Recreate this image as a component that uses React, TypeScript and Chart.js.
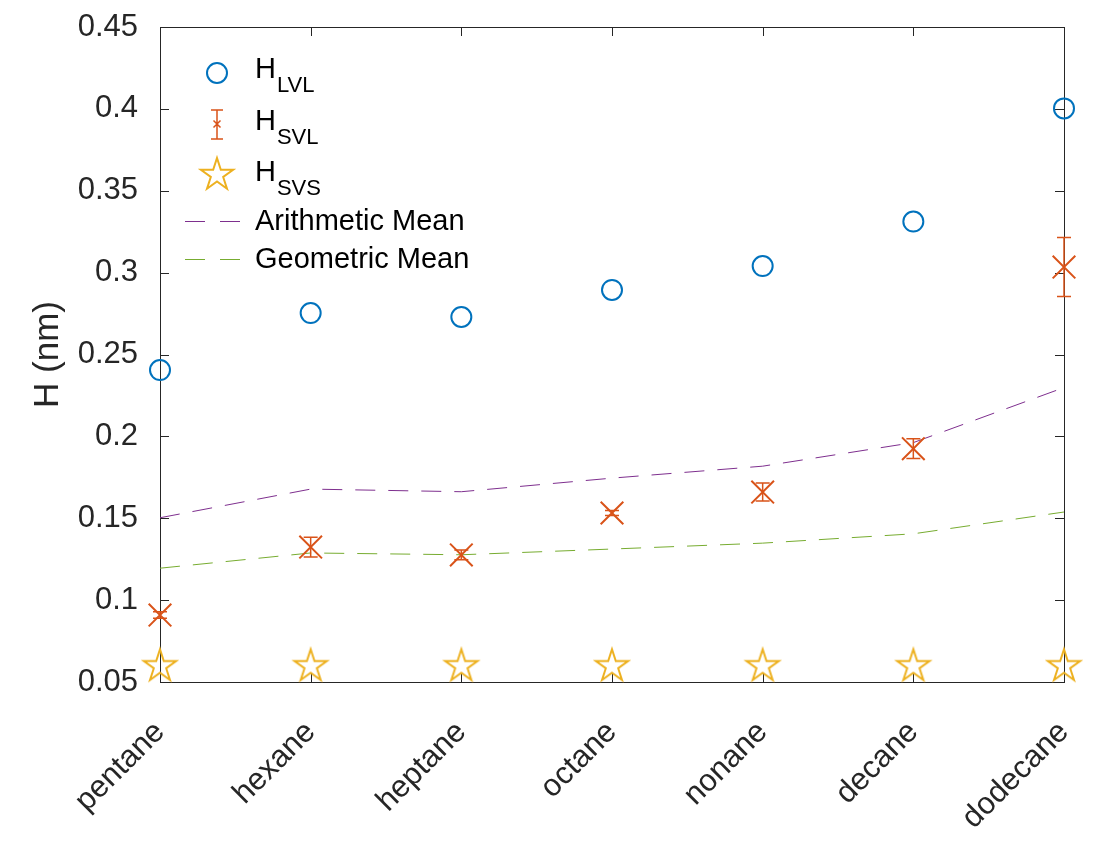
import React, { useEffect, useRef } from "react";
import { Chart, registerables } from "chart.js";
Chart.register(...registerables);

const categories = ["pentane", "hexane", "heptane", "octane", "nonane", "decane", "dodecane"];
const hLVL = [0.2405, 0.2753, 0.2729, 0.2894, 0.304, 0.3312, 0.4003];
const hSVL = [0.0909, 0.1324, 0.1276, 0.1532, 0.166, 0.1925, 0.3034];
const hSVLErr = [0.002, 0.006, 0.003, 0.0015, 0.0055, 0.006, 0.018];
const hSVS = [0.0602, 0.0602, 0.0602, 0.0602, 0.0602, 0.0602, 0.0602];
const arithMean = [0.1503, 0.1678, 0.1662, 0.1745, 0.1818, 0.1962, 0.2298];
const geoMean = [0.1195, 0.1288, 0.1277, 0.1312, 0.1348, 0.1405, 0.1538];
const yTicks = [0.05, 0.1, 0.15, 0.2, 0.25, 0.3, 0.35, 0.4, 0.45];

const FONT = "'Liberation Sans', Arial, Helvetica, sans-serif";
const AX = "#262626";
const BLUE = "#0072BD";
const ORANGE = "#D95319";
const YELLOW = "#EDB120";
const PURPLE = "#7E2F8E";
const GREEN = "#77AC30";

function drawStarPath(ctx: CanvasRenderingContext2D, cx: number, cy: number, R: number) {
  const r = R * 0.382;
  ctx.beginPath();
  for (let i = 0; i < 10; i++) {
    const rad = i % 2 === 0 ? R : r;
    const a = -Math.PI / 2 + (i * Math.PI) / 5;
    const x = cx + rad * Math.cos(a);
    const y = cy + rad * Math.sin(a);
    if (i === 0) ctx.moveTo(x, y);
    else ctx.lineTo(x, y);
  }
  ctx.closePath();
}

function makeStar(): HTMLCanvasElement {
  const c = document.createElement("canvas");
  c.width = 40;
  c.height = 40;
  const ctx = c.getContext("2d")!;
  ctx.strokeStyle = YELLOW;
  ctx.lineWidth = 2;
  ctx.lineJoin = "miter";
  drawStarPath(ctx, 20, 21, 17);
  ctx.stroke();
  return c;
}

const boxPlugin = {
  id: "matlabBox",
  beforeDatasetsDraw(chart: any) {
    const { ctx, chartArea: a, scales } = chart;
    ctx.save();
    ctx.strokeStyle = AX;
    ctx.lineWidth = 1;
    const tl = 9;
    ctx.beginPath();
    scales.y.ticks.forEach((t: any) => {
      const y = Math.round(scales.y.getPixelForValue(t.value)) + 0.5;
      ctx.moveTo(a.left, y);
      ctx.lineTo(a.left + tl, y);
      ctx.moveTo(a.right, y);
      ctx.lineTo(a.right - tl, y);
    });
    categories.forEach((_, i) => {
      const x = Math.round(scales.x.getPixelForValue(i)) + 0.5;
      ctx.moveTo(x, a.bottom);
      ctx.lineTo(x, a.bottom - tl);
      ctx.moveTo(x, a.top);
      ctx.lineTo(x, a.top + tl);
    });
    ctx.stroke();
    ctx.strokeRect(Math.round(a.left) + 0.5, Math.round(a.top) + 0.5, Math.round(a.right - a.left), Math.round(a.bottom - a.top));
    ctx.restore();
  },
};

const errorBarPlugin = {
  id: "errorBars",
  afterDatasetsDraw(chart: any) {
    const { ctx, scales } = chart;
    ctx.save();
    ctx.strokeStyle = ORANGE;
    ctx.lineWidth = 1.5;
    const cap = 7;
    hSVL.forEach((v, i) => {
      const x = scales.x.getPixelForValue(i);
      const y1 = scales.y.getPixelForValue(v - hSVLErr[i]);
      const y2 = scales.y.getPixelForValue(v + hSVLErr[i]);
      ctx.beginPath();
      ctx.moveTo(x, y1);
      ctx.lineTo(x, y2);
      ctx.moveTo(x - cap, y1);
      ctx.lineTo(x + cap, y1);
      ctx.moveTo(x - cap, y2);
      ctx.lineTo(x + cap, y2);
      ctx.stroke();
    });
    ctx.restore();
  },
};

const legendPlugin = {
  id: "matlabLegend",
  afterDraw(chart: any) {
    const ctx: CanvasRenderingContext2D = chart.ctx;
    ctx.save();
    const ix = 217;
    const tx = 255;
    ctx.strokeStyle = BLUE;
    ctx.lineWidth = 2;
    ctx.beginPath();
    ctx.arc(ix, 73, 10, 0, Math.PI * 2);
    ctx.stroke();
    ctx.strokeStyle = ORANGE;
    ctx.lineWidth = 1.5;
    ctx.beginPath();
    ctx.moveTo(ix, 110);
    ctx.lineTo(ix, 139);
    ctx.moveTo(ix - 6, 110);
    ctx.lineTo(ix + 6, 110);
    ctx.moveTo(ix - 6, 139);
    ctx.lineTo(ix + 6, 139);
    ctx.moveTo(ix - 3.5, 120.5);
    ctx.lineTo(ix + 3.5, 127.5);
    ctx.moveTo(ix + 3.5, 120.5);
    ctx.lineTo(ix - 3.5, 127.5);
    ctx.stroke();
    ctx.strokeStyle = YELLOW;
    ctx.lineWidth = 2;
    drawStarPath(ctx, ix, 175, 17);
    ctx.stroke();
    ctx.lineWidth = 1;
    ctx.setLineDash([20, 15]);
    ctx.strokeStyle = PURPLE;
    ctx.beginPath();
    ctx.moveTo(185, 221.5);
    ctx.lineTo(240, 221.5);
    ctx.stroke();
    ctx.strokeStyle = GREEN;
    ctx.beginPath();
    ctx.moveTo(185, 259.5);
    ctx.lineTo(240, 259.5);
    ctx.stroke();
    ctx.setLineDash([]);
    ctx.fillStyle = "#000";
    ctx.textAlign = "left";
    ctx.textBaseline = "alphabetic";
    const subs: [string, number][] = [
      ["LVL", 78],
      ["SVL", 130],
      ["SVS", 181],
    ];
    subs.forEach(([s, base]) => {
      ctx.font = `29px ${FONT}`;
      ctx.fillText("H", tx, base);
      const w = ctx.measureText("H").width;
      ctx.font = `22px ${FONT}`;
      ctx.fillText(s, tx + w + 1, base + 14);
    });
    ctx.font = `29px ${FONT}`;
    ctx.fillText("Arithmetic Mean", tx, 230);
    ctx.fillText("Geometric Mean", tx, 268);
    ctx.restore();
  },
};

export default function App() {
  const ref = useRef<HTMLCanvasElement | null>(null);
  useEffect(() => {
    if (!ref.current) return;
    const star = makeStar();
    const chart = new Chart(ref.current, {
      type: "line",
      data: {
        labels: categories,
        datasets: [
          {
            label: "H_LVL",
            data: hLVL,
            showLine: false,
            pointStyle: "circle",
            pointRadius: 10,
            pointBorderWidth: 2,
            borderColor: BLUE,
            pointBorderColor: BLUE,
            backgroundColor: "rgba(0,0,0,0)",
            pointBackgroundColor: "rgba(0,0,0,0)",
            clip: false,
          } as any,
          {
            label: "H_SVL",
            data: hSVL,
            showLine: false,
            pointStyle: "crossRot",
            pointRadius: 16,
            pointBorderWidth: 2,
            borderColor: ORANGE,
            pointBorderColor: ORANGE,
            clip: false,
          } as any,
          {
            label: "H_SVS",
            data: hSVS,
            showLine: false,
            pointStyle: star,
            pointRadius: 17,
            borderColor: YELLOW,
            clip: false,
          } as any,
          {
            label: "Arithmetic Mean",
            data: arithMean,
            borderColor: PURPLE,
            borderWidth: 1,
            borderDash: [20, 13],
            pointRadius: 0,
            tension: 0,
            fill: false,
          },
          {
            label: "Geometric Mean",
            data: geoMean,
            borderColor: GREEN,
            borderWidth: 1,
            borderDash: [20, 13],
            pointRadius: 0,
            tension: 0,
            fill: false,
          },
        ],
      },
      options: {
        animation: false,
        responsive: false,
        maintainAspectRatio: false,
        devicePixelRatio: 1,
        layout: { padding: { top: 27, right: 48, left: 0, bottom: 0 } },
        plugins: { legend: { display: false }, tooltip: { enabled: false } },
        events: [],
        scales: {
          x: {
            type: "category",
            offset: false,
            grid: { display: false, drawTicks: false },
            border: { display: false },
            ticks: {
              autoSkip: false,
              maxRotation: 45,
              minRotation: 45,
              padding: 32,
              color: AX,
              font: { family: FONT, size: 31 },
            },
            afterFit: (s: any) => {
              s.height = 168;
              s.paddingLeft = 0;
              s.paddingRight = 0;
            },
          },
          y: {
            type: "linear",
            min: 0.05,
            max: 0.45,
            grid: { display: false, drawTicks: false },
            border: { display: false },
            afterBuildTicks: (s: any) => {
              s.ticks = yTicks.map((v) => ({ value: v }));
            },
            ticks: {
              padding: 22,
              color: AX,
              font: { family: FONT, size: 31 },
              callback: (v: any) => String(+Number(v).toFixed(2)),
            },
            title: {
              display: true,
              text: "H (nm)",
              color: AX,
              font: { family: FONT, size: 35 },
              padding: { top: 27, bottom: 0 },
            },
            afterFit: (s: any) => {
              s.width = 160;
              s.paddingTop = 0;
              s.paddingBottom = 0;
            },
          },
        },
      },
      plugins: [boxPlugin, errorBarPlugin, legendPlugin],
    });
    return () => chart.destroy();
  }, []);
  return (
    <div style={{ position: "fixed", left: 0, top: 0, width: 1112, height: 850, background: "#fff" }}>
      <canvas ref={ref} width={1112} height={850} style={{ width: 1112, height: 850, display: "block" }} />
    </div>
  );
}
